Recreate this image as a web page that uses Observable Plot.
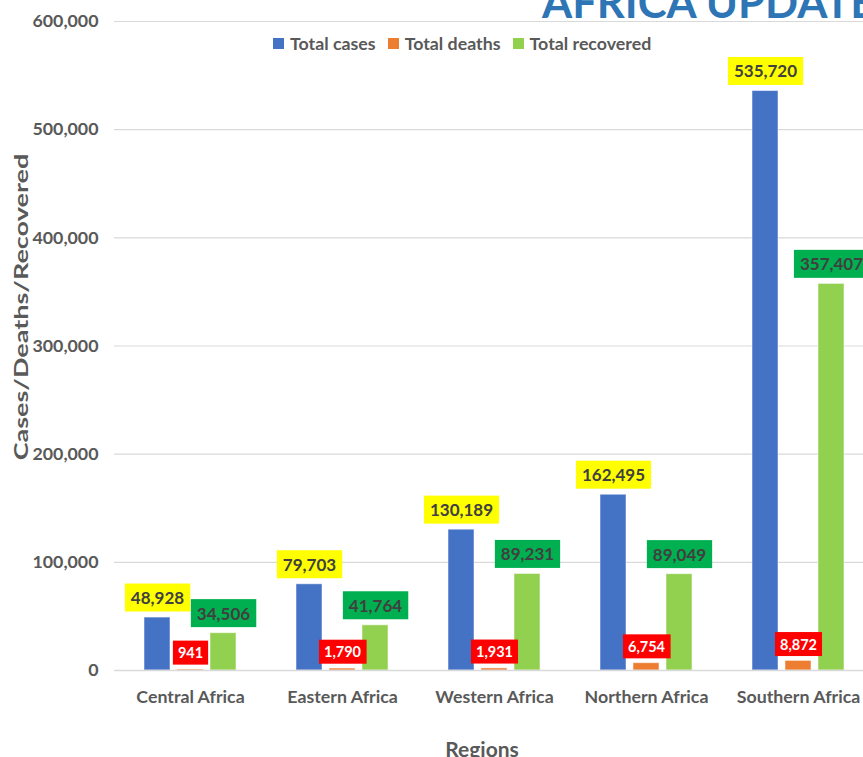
<!DOCTYPE html>
<html>
<head>
<meta charset="utf-8">
<script src="https://cdn.jsdelivr.net/npm/d3@7"></script>
<script src="https://cdn.jsdelivr.net/npm/@observablehq/plot@0.6"></script>
<style>
  html, body { margin: 0; padding: 0; background: #fff; overflow: hidden; }
  #wrap { position: relative; width: 863px; height: 757px; overflow: hidden; font-family: Lato, "Open Sans", sans-serif; font-weight: 700; color: #595959; }
  #title { position: absolute; left: 542px; top: -20px; font-size: 43.5px; line-height: 1; color: #2E75B6; white-space: nowrap; }
  #legend { position: absolute; left: 273px; top: 34px; font-size: 17.8px; line-height: 18px; white-space: nowrap; display: flex; align-items: center; }
  #legend .sw { display: inline-block; width: 11px; height: 11px; margin-right: 6px; }
  #legend .it { display: inline-flex; align-items: center; margin-right: 12px; }
  #ytitle { position: absolute; left: 21px; top: 307px; transform: translate(-50%, -50%) rotate(-90deg) scaleX(1.5); font-size: 18px; white-space: nowrap; }
  #xtitle { position: absolute; left: 482px; top: 738px; transform: translateX(-50%); font-size: 21px; line-height: 1; white-space: nowrap; }
</style>
</head>
<body>
<div id="wrap">
  <div id="chart"></div>
  <div id="title">AFRICA UPDATE</div>
  <div id="legend"></div>
  <div id="ytitle">Cases/Deaths/Recovered</div>
  <div id="xtitle">Regions</div>
</div>
<script>
const regions = ["Central Africa", "Eastern Africa", "Western Africa", "Northern Africa", "Southern Africa"];
const seriesNames = ["Total cases", "Total deaths", "Total recovered"];
const totalCases = [48928, 79703, 130189, 162495, 535720];
const totalDeaths = [941, 1790, 1931, 6754, 8872];
const totalRecovered = [34506, 41764, 89231, 89049, 357407];
const yTicks = [0, 100000, 200000, 300000, 400000, 500000, 600000];

const barColors = ["#4472C4", "#ED7D31", "#92D050"];
const boxColors = ["#FFFF00", "#FF0000", "#00B050"];
const textColors = ["#404040", "#FFFFFF", "#404040"];

const seriesValues = [totalCases, totalDeaths, totalRecovered];
const rows = [];
regions.forEach((r, i) => {
  seriesNames.forEach((s, k) => {
    rows.push({region: r, series: s, value: seriesValues[k][i], k});
  });
});

const fmt = d3.format(",");

const labelMarks = seriesNames.map((s, k) =>
  Plot.text(rows.filter(d => d.series === s), {
    fx: "region", x: "series", y: "value",
    text: d => fmt(d.value),
    dy: k === 1 ? -16 : -19,
    fill: textColors[k],
    fontSize: k === 1 ? 14.5 : 17,
    fontWeight: 700,
    ariaLabel: d => "label-" + k
  })
);

const chart = Plot.plot({
  width: 874,
  height: 757,
  marginLeft: 114,
  marginRight: 0,
  marginTop: 21,
  marginBottom: 87,
  style: {fontFamily: "Lato, 'Open Sans', sans-serif", fontWeight: 700, fontSize: "17.8px", color: "#595959", background: "transparent", maxWidth: "none", overflow: "visible"},
  fx: {domain: regions, padding: 0, axis: "bottom", tickSize: 0, tickPadding: 20, label: null},
  x: {domain: seriesNames, paddingInner: 0.2, paddingOuter: 0.864, axis: null},
  y: {domain: [0, 600000], ticks: yTicks, tickFormat: d => fmt(d), tickSize: 0, tickPadding: 16, label: null},
  color: {domain: seriesNames, range: barColors},
  marks: [
    Plot.ruleY(yTicks.filter(v => v > 0), {stroke: "#D9D9D9", strokeWidth: 1.2}),
    Plot.barY(rows, {fx: "region", x: "series", y: "value", fill: "series", stroke: "#FFFFFF", strokeOpacity: 0.5, strokeWidth: 1}),
    Plot.ruleY([0], {stroke: "#D9D9D9", strokeWidth: 1.5}),
    ...labelMarks
  ]
});
document.getElementById("chart").appendChild(chart);

// Colored boxes behind data labels
const labelSeries = new Map();
seriesValues.forEach((vals, k) => vals.forEach(v => labelSeries.set(fmt(v), k)));
const boxPad = [6, 5, 6];
const boxH = [28, 24, 28];
chart.querySelectorAll("text").forEach(t => {
  let k = null;
  const al = t.getAttribute("aria-label");
  if (al && al.startsWith("label-")) k = +al.slice(6);
  else if (t.closest("g[aria-label='text']") && labelSeries.has(t.textContent)) k = labelSeries.get(t.textContent);
  if (k === null) return;
  const bb = t.getBBox();
  const rect = document.createElementNS("http://www.w3.org/2000/svg", "rect");
  const w = bb.width + 2 * boxPad[k];
  const cy = bb.y + bb.height / 2;
  rect.setAttribute("x", bb.x - boxPad[k]);
  rect.setAttribute("y", cy - boxH[k] / 2);
  rect.setAttribute("width", w);
  rect.setAttribute("height", boxH[k]);
  rect.setAttribute("fill", boxColors[k]);
  rect.setAttribute("stroke", "none");
  const tr = t.getAttribute("transform");
  if (tr) rect.setAttribute("transform", tr);
  t.parentNode.insertBefore(rect, t);
});

// Legend
const legend = document.getElementById("legend");
seriesNames.forEach((s, k) => {
  const it = document.createElement("span");
  it.className = "it";
  const sw = document.createElement("span");
  sw.className = "sw";
  sw.style.background = barColors[k];
  it.appendChild(sw);
  it.appendChild(document.createTextNode(s));
  legend.appendChild(it);
});
</script>
</body>
</html>
